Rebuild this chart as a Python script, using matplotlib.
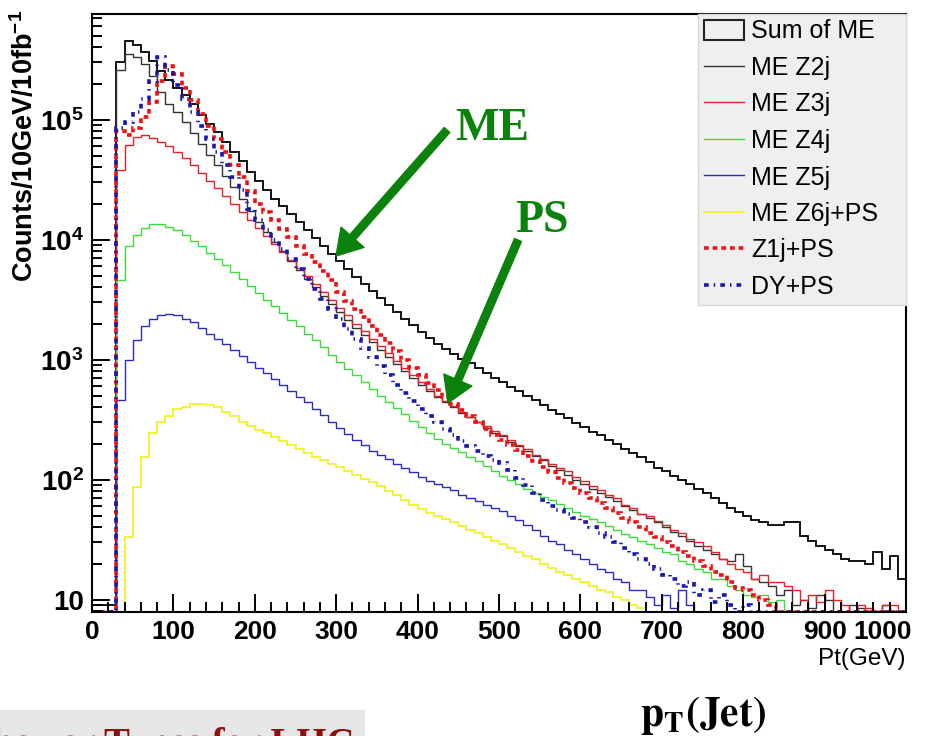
"""
Jet pT spectra, ME (Z+n jets) vs parton shower samples, log scale.
"""

import numpy as np
import matplotlib
matplotlib.use('Agg')
import matplotlib.pyplot as plt
from matplotlib import ticker
from matplotlib.patches import Patch, Rectangle
from matplotlib.lines import Line2D

### Data (counts per 10 GeV bin; 0 = empty bin)
bin_edges = np.arange(0, 1010, 10)

sum_me = [9, 9, 9, 3.05e5, 4.5e5, 4.2e5, 3.7e5, 3.1e5, 2.55e5, 2.15e5,
          1.85e5, 1.6e5, 1.35e5, 1.1e5, 9.2e4, 7.9e4, 6.5e4, 5.4e4, 4.5e4, 3.7e4,
          3.1e4, 2.6e4, 2.2e4, 1.9e4, 1.64e4, 1.4e4, 1.2e4, 1.03e4, 8.9e3, 7.6e3,
          6.6e3, 5.7e3, 4.9e3, 4.3e3, 3.74e3, 3.25e3, 2.85e3, 2.5e3, 2.19e3, 1.93e3,
          1.71e3, 1.52e3, 1.35e3, 1.22e3, 1.12e3, 1.02e3, 930, 850, 775, 707,
          657, 597, 548, 501, 458, 421, 383, 354, 328, 298,
          276, 252, 234, 216, 200, 181, 168, 156, 140, 126,
          118, 108, 100, 92, 84, 78, 70, 64, 58, 54,
          50, 46, 44, 42, 42, 44, 44, 34, 31, 28,
          26, 24, 22, 21, 21, 20, 25, 18, 23, 15]

me_z2j = [0, 0, 0, 2.6e5, 3.5e5, 3.3e5, 2.9e5, 2.3e5, 1.7e5, 1.35e5,
          1.15e5, 9.5e4, 7.8e4, 6.3e4, 5.1e4, 4.2e4, 3.4e4, 2.75e4, 2.2e4, 1.75e4,
          1.4e4, 1.15e4, 9.5e3, 8.0e3, 6.7e3, 5.6e3, 4.7e3, 4.0e3, 3.4e3, 2.9e3,
          2.5e3, 2.15e3, 1.85e3, 1.6e3, 1.4e3, 1.2e3, 1.05e3, 920, 800, 700,
          620, 550, 490, 440, 400, 360, 330, 300, 270, 245,
          230, 205, 190, 172, 158, 145, 130, 120, 110, 100,
          92, 84, 78, 72, 66, 60, 56, 52, 48, 44,
          40, 37, 34, 31, 28, 26, 24, 22, 21, 24,
          19, 15, 14, 13, 11, 12, 9, 10, 8.5, 11,
          10, 0, 0, 9, 8.5, 0, 0, 9, 0, 0]

me_z3j = [0, 0, 0, 3.8e4, 6.2e4, 7.2e4, 7.5e4, 7.0e4, 6.5e4, 6.0e4,
          5.4e4, 4.8e4, 4.2e4, 3.6e4, 3.1e4, 2.7e4, 2.3e4, 2.0e4, 1.7e4, 1.45e4,
          1.25e4, 1.07e4, 9.2e3, 7.9e3, 6.8e3, 5.8e3, 5.0e3, 4.3e3, 3.7e3, 3.15e3,
          2.7e3, 2.35e3, 2.0e3, 1.75e3, 1.5e3, 1.3e3, 1.13e3, 980, 850, 740,
          650, 570, 500, 450, 410, 370, 335, 305, 280, 255,
          235, 215, 195, 180, 162, 150, 135, 125, 118, 105,
          98, 88, 82, 74, 70, 62, 58, 52, 50, 45,
          42, 38, 36, 32, 30, 28, 25, 22, 20, 18,
          17, 15, 16, 14, 14, 13, 12, 10, 11, 9.5,
          12, 10, 9, 0, 9, 8.5, 0, 9, 9, 0]

me_z4j = [0, 0, 0, 4.6e3, 8.8e3, 1.1e4, 1.25e4, 1.35e4, 1.35e4, 1.28e4,
          1.2e4, 1.1e4, 9.8e3, 8.8e3, 7.8e3, 6.9e3, 6.1e3, 5.4e3, 4.7e3, 4.1e3,
          3.6e3, 3.15e3, 2.8e3, 2.45e3, 2.15e3, 1.9e3, 1.65e3, 1.45e3, 1.27e3, 1.1e3,
          960, 840, 740, 650, 570, 500, 445, 395, 350, 310,
          275, 245, 220, 200, 185, 170, 155, 142, 130, 118,
          108, 100, 92, 84, 78, 72, 68, 63, 58, 54,
          50, 47, 44, 41, 38, 35, 33, 31, 29, 27,
          25, 24, 21, 20, 18, 17, 15, 15, 13, 12,
          11, 10.5, 11, 9.5, 10, 0, 0, 0, 0, 0,
          0, 0, 0, 0, 0, 0, 0, 0, 0, 0]

me_z5j = [0, 0, 0, 460, 1.0e3, 1.45e3, 1.9e3, 2.2e3, 2.35e3, 2.4e3,
          2.35e3, 2.2e3, 2.05e3, 1.85e3, 1.65e3, 1.5e3, 1.35e3, 1.2e3, 1.08e3, 960,
          860, 770, 690, 620, 550, 490, 440, 390, 345, 305,
          270, 240, 215, 195, 175, 160, 148, 136, 125, 115,
          106, 98, 92, 87, 82, 75, 70, 66, 62, 58,
          55, 50, 46, 42, 38, 34, 31, 29, 26, 24,
          22, 20, 18, 17, 15, 14, 12, 12, 10.5, 9,
          11, 8.5, 12, 9, 0, 0, 0, 0, 0, 0,
          0, 0, 0, 0, 0, 0, 0, 0, 0, 0,
          0, 0, 0, 0, 0, 0, 0, 0, 0, 0]

me_z6j_ps = [0, 0, 0, 0, 33, 87, 155, 245, 300, 340,
             385, 405, 425, 430, 420, 400, 370, 340, 300, 280,
             260, 245, 225, 210, 195, 180, 168, 155, 145, 135,
             128, 118, 110, 102, 95, 88, 80, 74, 68, 62,
             57, 53, 50, 47, 44, 41, 38, 36, 33, 31,
             29, 27, 25, 23, 22, 20, 18.5, 17, 16, 15,
             14, 13, 12, 11.5, 10.5, 10, 9, 8.5, 0, 0,
             0, 0, 0, 0, 0, 0, 0, 0, 0, 0,
             0, 0, 0, 0, 0, 0, 0, 0, 0, 0,
             0, 0, 0, 0, 0, 0, 0, 0, 0, 0]

z1j_ps = [0, 0, 0, 8.0e4, 7.5e4, 8.5e4, 1.05e5, 1.4e5, 2.1e5, 2.8e5,
          2.4e5, 1.85e5, 1.45e5, 1.12e5, 8.8e4, 6.9e4, 5.4e4, 4.2e4, 3.3e4, 2.55e4,
          2.0e4, 1.7e4, 1.45e4, 1.23e4, 1.05e4, 8.9e3, 7.6e3, 6.5e3, 5.5e3, 4.6e3,
          3.7e3, 3.1e3, 2.65e3, 2.25e3, 1.9e3, 1.62e3, 1.38e3, 1.18e3, 1.0e3, 860,
          740, 640, 560, 490, 430, 380, 340, 300, 265, 238,
          215, 195, 176, 158, 142, 128, 115, 104, 94, 85,
          77, 70, 64, 58, 53, 48, 44, 40, 36, 33,
          30, 28, 25, 23, 21, 19, 17, 16, 14, 12.5,
          12, 11, 10, 9, 0, 0, 0, 0, 0, 0,
          0, 0, 0, 0, 0, 0, 0, 0, 0, 0]

dy_ps = [0, 0, 0, 8.5e4, 9.5e4, 1.15e5, 1.5e5, 2.1e5, 3.3e5, 2.6e5,
         1.95e5, 1.5e5, 1.15e5, 8.9e4, 6.9e4, 5.4e4, 4.2e4, 3.3e4, 2.6e4, 1.8e4,
         1.45e4, 1.2e4, 1.0e4, 8.3e3, 6.9e3, 5.7e3, 4.7e3, 3.9e3, 3.2e3, 2.65e3,
         2.2e3, 1.8e3, 1.5e3, 1.25e3, 1.05e3, 880, 740, 620, 530, 450,
         390, 340, 300, 265, 235, 210, 190, 172, 158, 147,
         137, 120, 104, 90, 78, 68, 60, 56, 52, 48,
         44, 40, 36, 33, 30, 27, 24, 22, 20, 18,
         16, 15, 13, 14, 11, 12, 9.5, 11, 9, 0,
         9, 0, 0, 0, 0, 0, 0, 0, 0, 0,
         0, 0, 0, 0, 0, 0, 0, 0, 0, 0]

labels = ['Sum of ME', 'ME Z2j', 'ME Z3j', 'ME Z4j', 'ME Z5j',
          'ME Z6j+PS', 'Z1j+PS', 'DY+PS']
yticks = [10, 100, 1000, 10000, 100000]
yticklabels = ['10', r'$\mathbf{10^{2}}$', r'$\mathbf{10^{3}}$',
               r'$\mathbf{10^{4}}$', r'$\mathbf{10^{5}}$']
xticks = np.arange(0, 1001, 100)

############################################################################
### Plot
plt.rcParams['font.family'] = ['Liberation Sans', 'DejaVu Sans']
plt.rcParams['mathtext.fontset'] = 'custom'
plt.rcParams['mathtext.rm'] = 'Liberation Sans:bold'
plt.rcParams['mathtext.bf'] = 'Liberation Sans:bold'
plt.rcParams['mathtext.it'] = 'Liberation Sans:bold'

W, H = 934, 736
fig = plt.figure(figsize=(W/100., H/100.), dpi=100)
ax = fig.add_axes([92./W, 124./H, 814./W, 598./H])

ymin, ymax = 7.9, 7.6e5

def floor(v):
    return np.clip(np.asarray(v, dtype=float), ymin, None)

styles = [
    (sum_me,    dict(color='black',   lw=1.3)),
    (me_z2j,    dict(color='#333333', lw=1.0)),
    (me_z3j,    dict(color='#e8202a', lw=1.0)),
    (me_z4j,    dict(color='#3ddc3d', lw=1.0)),
    (me_z5j,    dict(color='#2a2ac8', lw=1.0)),
    (me_z6j_ps, dict(color='#f2f22a', lw=1.3)),
    (z1j_ps,    dict(color='#ee1111', lw=2.6, linestyle=(0, (1.3, 1.1)))),
    (dy_ps,     dict(color='#1818b0', lw=2.6, linestyle=(0, (1.3, 1.4, 0.4, 1.4)))),
]
for vals, st in styles:
    ax.stairs(floor(vals), bin_edges, baseline=None, **st)

ax.set_yscale('log')
ax.set_xlim(0, 1000)
ax.set_ylim(ymin, ymax)

ax.yaxis.set_major_locator(ticker.FixedLocator(yticks))
ax.yaxis.set_major_formatter(ticker.FixedFormatter(yticklabels))
ax.yaxis.set_minor_locator(ticker.LogLocator(base=10, subs=np.arange(2, 10)))
ax.yaxis.set_minor_formatter(ticker.NullFormatter())
ax.set_xticks(xticks)
# last label is placed by hand so that it stays inside the figure
ax.set_xticklabels([str(x) for x in xticks[:-1]] + [''])
ax.xaxis.set_minor_locator(ticker.MultipleLocator(20))

ax.tick_params(which='both', direction='in', top=False, right=False,
               width=1.4, colors='black')
ax.tick_params(which='major', length=13, pad=6)
ax.tick_params(axis='x', which='major', labelsize=19)
ax.tick_params(axis='y', which='major', labelsize=20)
ax.tick_params(which='minor', length=7)
for lab in ax.get_xticklabels() + ax.get_yticklabels():
    lab.set_fontweight('bold')
for sp in ax.spines.values():
    sp.set_linewidth(1.5)

ax.annotate(str(xticks[-1]), xy=(1, 0), xycoords='axes fraction',
            xytext=(6, -8), textcoords='offset pixels', ha='right', va='top',
            fontsize=19, fontweight='bold', annotation_clip=False)

### Legend
handles = [Patch(facecolor='none', edgecolor='#222222', lw=1.5)]
for vals, st in styles[1:]:
    handles.append(Line2D([], [], **st))
leg = ax.legend(handles, labels, loc='upper left',
                bbox_to_anchor=(0.7445, 0.505, 0.2555, 0.495), mode='expand',
                borderaxespad=0, fancybox=False, framealpha=1,
                facecolor='#efefef', edgecolor='#d8d8d8', fontsize=18,
                handlelength=1.6, handleheight=0.9, handletextpad=0.3,
                labelspacing=0.5, borderpad=0.22)
leg.get_frame().set_linewidth(1.0)

### Axis titles
fig.text(25./W, 1 - 10./H, r'Counts/10GeV/10fb$^{-1}$', rotation=90,
         ha='center', va='top', fontsize=19.5, fontweight='bold')
fig.text(906./W, 1 - 648./H, 'Pt(GeV)', ha='right', va='top', fontsize=17.5)

### Annotations (green arrows)
green = '#0b820b'
fig.text(455./W, 1 - 140./H, 'ME', color=green, fontsize=33,
         fontweight='bold', family='Liberation Serif', va='baseline')
fig.text(515./W, 1 - 232./H, 'PS', color=green, fontsize=33,
         fontweight='bold', family='Liberation Serif', va='baseline')
arrow = dict(arrowstyle='simple,head_length=0.9,head_width=1.1,tail_width=0.27',
             mutation_scale=20, color=green, shrinkA=0, shrinkB=0)
ax.annotate('', xy=(336, H - 256), xytext=(447, H - 130),
            xycoords='figure pixels', textcoords='figure pixels',
            arrowprops=arrow, annotation_clip=False)
ax.annotate('', xy=(448, H - 403), xytext=(518, H - 240),
            xycoords='figure pixels', textcoords='figure pixels',
            arrowprops=arrow, annotation_clip=False)

### Bottom slide texts
fig.text(640./W, 1 - 726./H, r'$\mathbf{p_T(Jet)}$', math_fontfamily='stix',
         fontsize=30, va='baseline')
fig.add_artist(Rectangle((0, 0), 365./W, 26./H, transform=fig.transFigure,
                         facecolor='#e6e6e6', edgecolor='none', zorder=0))
fig.text(355./W, -19./H, 'Parton Shower Tunes for LHC', ha='right',
         va='baseline', color='#8b1010', fontsize=28, fontweight='bold',
         family='Liberation Serif')

plt.savefig('out.png', dpi=100)
